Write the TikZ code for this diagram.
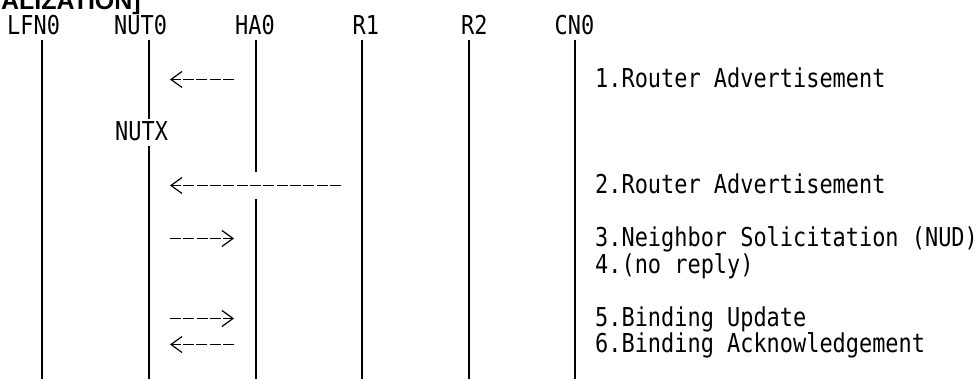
\documentclass[tikz,border=0pt]{standalone}
\usepackage{fontspec}
\usetikzlibrary{arrows.meta}
\newfontfamily\seqfont{DejaVu Sans Mono}[FakeStretch=0.843]
\newfontfamily\titlefont{Liberation Sans}

\begin{document}
\begin{tikzpicture}[
        x=1pt, y=-1pt,
        lbl/.style={font=\seqfont\fontsize{26}{26.5}\selectfont, inner sep=0pt, anchor=base west},
        ttl/.style={font=\titlefont\bfseries\fontsize{25}{26}\selectfont, inner sep=0pt, anchor=base east},
        life/.style={line width=1.6pt},
        msg/.style={line width=1.4pt, dash pattern=on 11pt off 2.33pt,
            -{Straight Barb[length=11pt, width=16pt, line width=1.2pt]}}
    ]
    \useasboundingbox (0,0) rectangle (978,379);

    % title, cut at the top edge
    \node[ttl] (Title) at (141,9.5) {ALIZATION]};

    % header
    \node[lbl] (LFN) at (7,35) {LFN0};
    \node[lbl] (NUT) at (114,35) {NUT0};
    \node[lbl] (HA) at (235,35) {HA0};
    \node[lbl] (Rone) at (352.5,35) {R1};
    \node[lbl] (Rtwo) at (461,35) {R2};
    \node[lbl] (CN) at (554.5,35) {CN0};
    \node[lbl] (NUTX) at (115,141) {NUTX};

    % lifelines
    \coordinate (LFNtop) at (41.7,40);   \coordinate (LFNend) at (41.7,379);
    \coordinate (NUTtop) at (148.7,40);  \coordinate (NUTcut) at (148.7,119.5);
    \coordinate (NUTXtop) at (148.7,146); \coordinate (NUTend) at (148.7,379);
    \coordinate (HAtop) at (255.7,40);   \coordinate (HAcut) at (255.7,172.5);
    \coordinate (HAback) at (255.7,199); \coordinate (HAend) at (255.7,379);
    \coordinate (Ronetop) at (362,40);   \coordinate (Roneend) at (362,379);
    \coordinate (Rtwotop) at (468.7,40); \coordinate (Rtwoend) at (468.7,379);
    \coordinate (CNtop) at (575,40);     \coordinate (CNend) at (575,379);

    \draw[life] (LFNtop) -- (LFNend);
    \draw[life] (NUTtop) -- (NUTcut);
    \draw[life] (NUTXtop) -- (NUTend);
    \draw[life] (HAtop) -- (HAcut);
    \draw[life] (HAback) -- (HAend);
    \draw[life] (Ronetop) -- (Roneend);
    \draw[life] (Rtwotop) -- (Rtwoend);
    \draw[life] (CNtop) -- (CNend);

    % messages
    \coordinate (RAoneL) at (170,79.5);  \coordinate (RAoneR) at (234,79.5);
    \coordinate (RAtwoL) at (170,185.5); \coordinate (RAtwoR) at (341,185.5);
    \coordinate (NSL) at (170,238.5);    \coordinate (NSR) at (234,238.5);
    \coordinate (BUL) at (170,318.5);    \coordinate (BUR) at (234,318.5);
    \coordinate (BAL) at (170,344.5);    \coordinate (BAR) at (234,344.5);

    \draw[msg] (RAoneR) -- (RAoneL);
    \draw[msg] (RAtwoR) -- (RAtwoL);
    \draw[msg] (NSL) -- (NSR);
    \draw[msg] (BUL) -- (BUR);
    \draw[msg] (BAR) -- (BAL);

    % step texts
    \node[lbl] (RAone) at (595,88) {1.Router Advertisement};
    \node[lbl] (RAtwo) at (595,194) {2.Router Advertisement};
    \node[lbl] (NS) at (595,247) {3.Neighbor Solicitation (NUD)};
    \node[lbl] (NoReply) at (595,273.5) {4.(no reply)};
    \node[lbl] (BU) at (595,326.5) {5.Binding Update};
    \node[lbl] (BA) at (595,353) {6.Binding Acknowledgement};

\end{tikzpicture}
\end{document}
